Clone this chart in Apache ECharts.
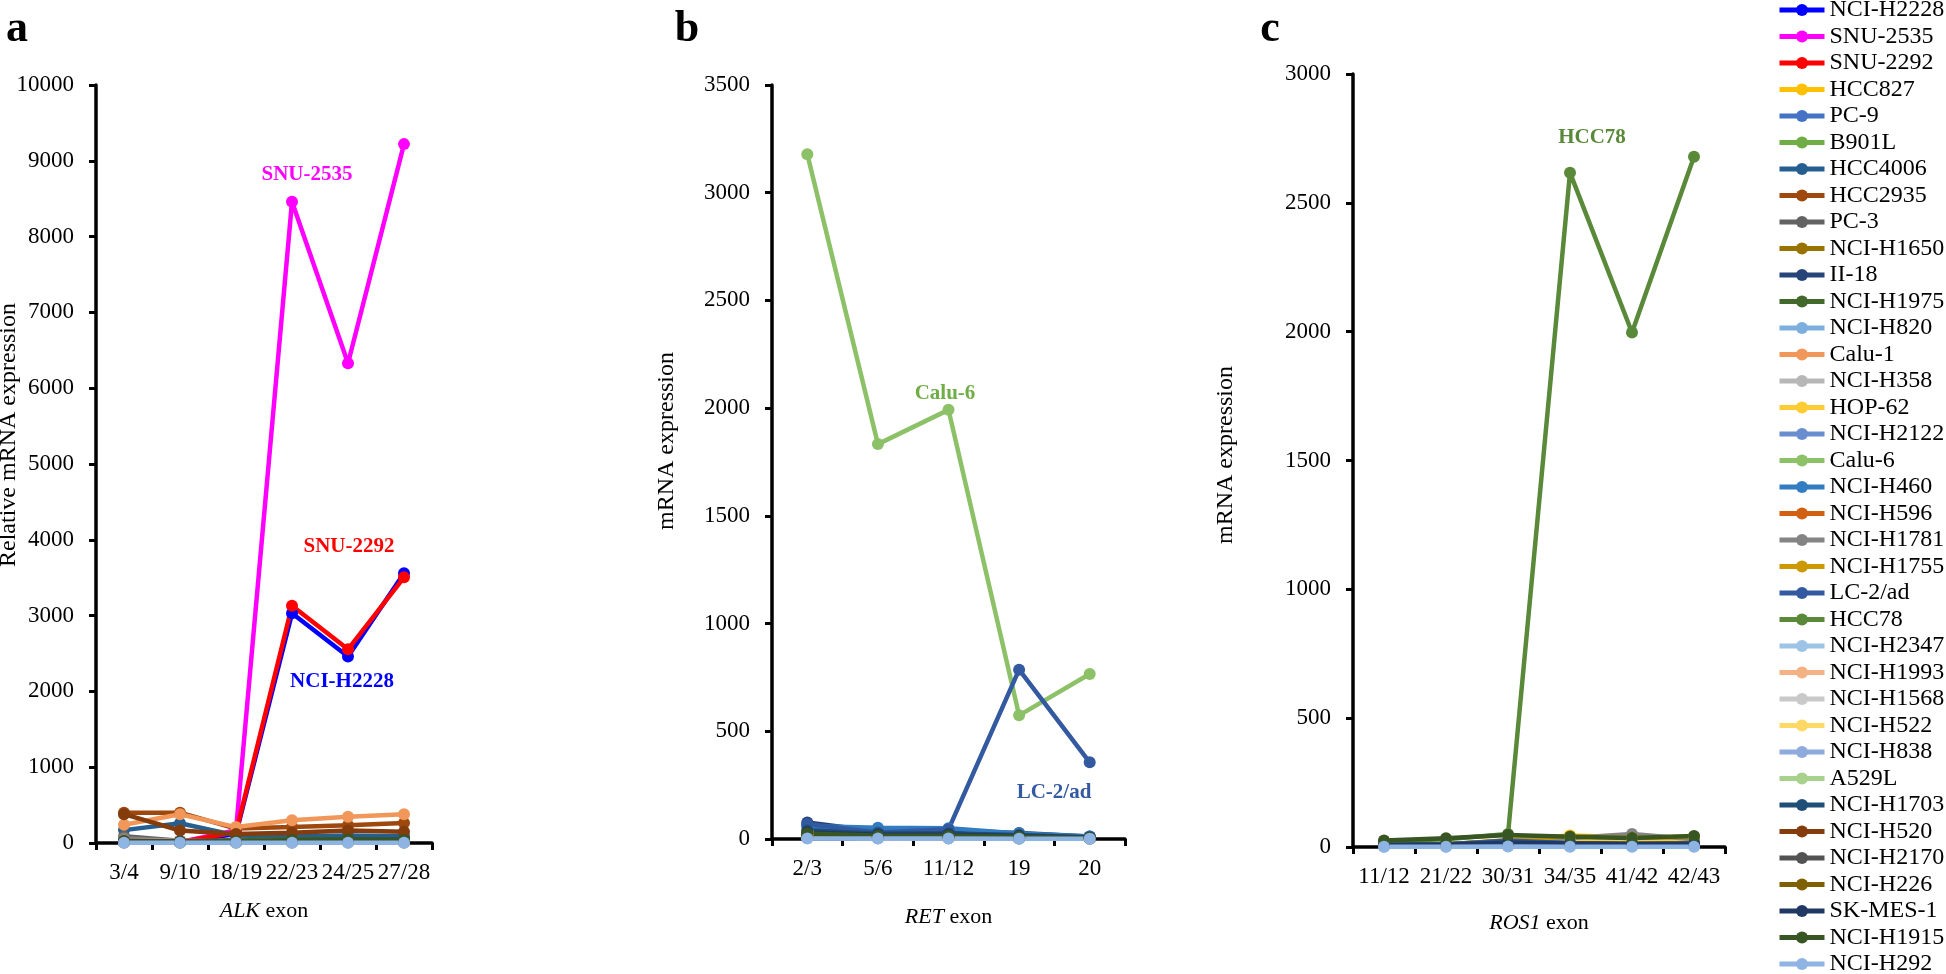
<!DOCTYPE html>
<html>
<head>
<meta charset="utf-8">
<script src="https://cdn.jsdelivr.net/npm/echarts@6/dist/echarts.min.js"></script>
<style>html,body{margin:0;padding:0;background:#fff}#c{width:1946px;height:974px}</style>
</head>
<body>
<div id="c"></div>
<script>
const cellLines = ['NCI-H2228','SNU-2535','SNU-2292','HCC827','PC-9','B901L','HCC4006','HCC2935','PC-3','NCI-H1650','II-18','NCI-H1975','NCI-H820','Calu-1','NCI-H358','HOP-62','NCI-H2122','Calu-6','NCI-H460','NCI-H596','NCI-H1781','NCI-H1755','LC-2/ad','HCC78','NCI-H2347','NCI-H1993','NCI-H1568','NCI-H522','NCI-H838','A529L','NCI-H1703','NCI-H520','NCI-H2170','NCI-H226','SK-MES-1','NCI-H1915','NCI-H292'];
const lineColors = ['#0000FF','#FF00FF','#FF0000','#FFC000','#4472C4','#70AD47','#255E91','#9E480E','#636363','#997300','#264478','#43682B','#7CAFDD','#F1975A','#B7B7B7','#FFCD33','#698ED0','#8CC168','#327DC2','#D26012','#848484','#CC9A00','#335AA1','#5A8A39','#9DC3E6','#F4B183','#C9C9C9','#FFD966','#8FAADC','#A9D18E','#1F4E79','#843C0C','#525252','#7F6000','#203864','#375623','#8EB4E3'];

const alkExons = ['3/4','9/10','18/19','22/23','24/25','27/28'];
const alkValues = [
  [10,15,120,3030,2460,3560],
  [5,10,170,8460,6330,9220],
  [8,12,140,3130,2555,3505],
  [20,15,10,15,20,15],
  [30,20,15,20,25,20],
  [15,10,10,20,25,20],
  [170,260,100,85,100,90],
  [400,400,190,210,235,265],
  [90,30,20,20,25,20],
  [25,20,15,30,35,30],
  [20,15,30,40,50,45],
  [15,20,40,50,45,40],
  [5,5,5,5,5,5],
  [240,380,210,300,345,380],
  [10,8,8,10,12,10],
  [10,8,8,10,10,8],
  [12,10,8,10,12,10],
  [15,10,10,15,15,12],
  [20,15,10,15,20,15],
  [30,25,20,30,35,30],
  [60,25,15,20,20,15],
  [20,15,10,15,15,12],
  [15,10,10,20,25,20],
  [10,8,10,15,15,12],
  [5,5,5,5,5,5],
  [30,25,20,30,30,25],
  [10,8,6,8,10,8],
  [8,6,5,6,8,6],
  [10,8,6,8,10,8],
  [12,10,8,10,12,10],
  [20,15,20,30,40,35],
  [380,165,120,135,165,150],
  [30,20,15,20,25,20],
  [25,20,15,20,20,18],
  [20,15,15,25,30,25],
  [15,10,20,40,45,40],
  [3,3,3,3,3,3]
];

const retExons = ['2/3','5/6','11/12','19','20'];
const retValues = [
  [10,5,5,3,2],
  [8,5,5,3,2],
  [8,5,5,3,2],
  [40,10,8,5,3],
  [20,8,8,5,3],
  [15,8,6,4,2],
  [60,25,30,20,10],
  [25,15,15,10,5],
  [15,8,8,5,3],
  [20,10,10,6,3],
  [77,35,40,28,12],
  [30,15,15,10,5],
  [5,3,3,2,1],
  [20,10,10,6,3],
  [10,5,5,3,2],
  [35,8,6,4,2],
  [15,8,8,5,3],
  [3179,1833,1992,574,766],
  [60,52,50,25,12],
  [20,10,10,6,3],
  [12,6,6,4,2],
  [30,10,8,5,3],
  [70,30,45,786,356],
  [10,5,5,3,2],
  [5,3,3,2,1],
  [15,8,8,5,3],
  [8,4,4,3,2],
  [25,6,5,3,2],
  [10,5,5,3,2],
  [12,6,6,4,2],
  [40,25,25,18,8],
  [20,10,10,6,3],
  [15,8,8,5,3],
  [20,10,10,6,3],
  [30,20,20,14,6],
  [25,15,15,10,5],
  [2,2,2,1,1]
];

const rosExons = ['11/12','21/22','30/31','34/35','41/42','42/43'];
const rosValues = [
  [5,5,8,6,5,6],
  [4,4,6,5,4,5],
  [4,4,6,5,4,5],
  [5,10,27,45,38,40],
  [6,8,15,12,10,12],
  [5,6,12,10,8,10],
  [8,10,18,15,12,14],
  [6,8,14,12,10,12],
  [5,7,12,10,9,10],
  [6,9,15,14,12,13],
  [8,10,20,18,15,16],
  [10,12,22,20,18,20],
  [2,2,4,3,3,3],
  [6,8,14,12,10,12],
  [4,5,8,7,6,7],
  [5,8,20,30,25,28],
  [5,7,18,10,8,9],
  [4,5,10,8,7,8],
  [6,8,16,12,10,11],
  [5,7,12,10,9,10],
  [5,8,20,35,50,30],
  [5,10,25,42,35,40],
  [8,10,25,15,12,14],
  [22,30,50,2617,1997,2679],
  [2,2,4,3,3,3],
  [5,6,10,8,7,8],
  [3,4,6,5,4,5],
  [4,6,12,15,12,14],
  [4,6,14,6,5,6],
  [3,4,8,6,5,6],
  [8,10,18,15,13,14],
  [6,8,14,12,10,11],
  [6,8,14,12,11,12],
  [5,7,12,10,9,10],
  [8,10,16,14,12,13],
  [25,34,47,40,35,43],
  [1,1,2,1,1,1]
];

const FONT = 'Liberation Serif, Times New Roman, serif';
const chart = echarts.init(document.getElementById('c'), null, {renderer:'canvas'});

const grids = [
  {left:96, top:85, width:336, height:758},
  {left:772, top:85, width:353, height:754},
  {left:1353, top:74, width:372, height:773}
];
const exonSets = [alkExons, retExons, rosExons];
const valueSets = [alkValues, retValues, rosValues];
const geneNames = ['ALK','RET','ROS1'];
const yMax = [10000, 3500, 3000];
const yInt = [1000, 500, 500];
const nameGaps = [57, 67, 65];

const axisLine = {show:true, lineStyle:{color:'#000', width:3.5}};
const xAxes = exonSets.map((ex, i) => ({
  type:'category', gridIndex:i, data:ex, boundaryGap:true,
  axisLine: axisLine,
  axisTick:{show:true, length:7, lineStyle:{color:'#000', width:3}},
  axisLabel:{color:'#000', fontFamily:FONT, fontSize:23, margin:18, interval:0},
  name:'{i|' + geneNames[i] + '} exon', nameLocation:'middle', nameGap:nameGaps[i],
  nameTextStyle:{color:'#000', fontFamily:FONT, fontSize:22,
    rich:{i:{fontStyle:'italic', fontFamily:FONT, fontSize:22, color:'#000'}}}
}));
const yAxes = yMax.map((m, i) => ({
  type:'value', gridIndex:i, min:0, max:m, interval:yInt[i],
  axisLine: axisLine,
  axisTick:{show:true, length:7, lineStyle:{color:'#000', width:3}},
  splitLine:{show:false},
  axisLabel:{color:'#000', fontFamily:FONT, fontSize:23, margin:22, formatter: v => String(v)}
}));

const series = [];
valueSets.forEach((vals, p) => {
  vals.forEach((row, i) => {
    series.push({
      type:'line', name:cellLines[i], xAxisIndex:p, yAxisIndex:p, data:row,
      color:lineColors[i], symbol:'circle', symbolSize:12, showSymbol:true,
      lineStyle:{width:4.5, color:lineColors[i]}, itemStyle:{color:lineColors[i]},
      emphasis:{disabled:true}, animation:false
    });
  });
});

function txt(x, y, text, opts) {
  return Object.assign({type:'text', x:x, y:y, style:Object.assign({
    text:text, fill:'#000', font: '24px ' + FONT, textAlign:'center', textVerticalAlign:'middle'
  }, opts && opts.style || {})}, opts && opts.rest || {});
}
const graphics = [
  txt(17, 30, 'a', {style:{font:'bold 44px ' + FONT}}),
  txt(687, 30, 'b', {style:{font:'bold 44px ' + FONT}}),
  txt(1270, 30, 'c', {style:{font:'bold 44px ' + FONT}}),
  txt(9, 435, 'Relative mRNA expression', {rest:{rotation:Math.PI/2}}),
  txt(667, 441, 'mRNA expression', {rest:{rotation:Math.PI/2}}),
  txt(1226, 455, 'mRNA expression', {rest:{rotation:Math.PI/2}}),
  txt(307, 175, 'SNU-2535', {style:{font:'bold 21px ' + FONT, fill:'#FF00FF'}}),
  txt(349, 547, 'SNU-2292', {style:{font:'bold 21px ' + FONT, fill:'#FF0000'}}),
  txt(342, 682, 'NCI-H2228', {style:{font:'bold 21px ' + FONT, fill:'#0000FF'}}),
  txt(945, 394, 'Calu-6', {style:{font:'bold 21px ' + FONT, fill:'#70AD47'}}),
  txt(1054, 793, 'LC-2/ad', {style:{font:'bold 21px ' + FONT, fill:'#335AA1'}}),
  txt(1592, 138, 'HCC78', {style:{font:'bold 21px ' + FONT, fill:'#5A8A39'}})
];

chart.setOption({
  animation:false,
  backgroundColor:'#fff',
  grid: grids,
  xAxis: xAxes,
  yAxis: yAxes,
  legend:{
    orient:'vertical', left:1777, top:-2, height:1200, padding:0, itemWidth:45, itemHeight:15, itemGap:2.5,
    data: cellLines, selectedMode:false,
    lineStyle:{width:5},
    textStyle:{color:'#000', fontFamily:FONT, fontSize:24}
  },
  graphic: graphics,
  series: series
});
</script>
</body>
</html>
